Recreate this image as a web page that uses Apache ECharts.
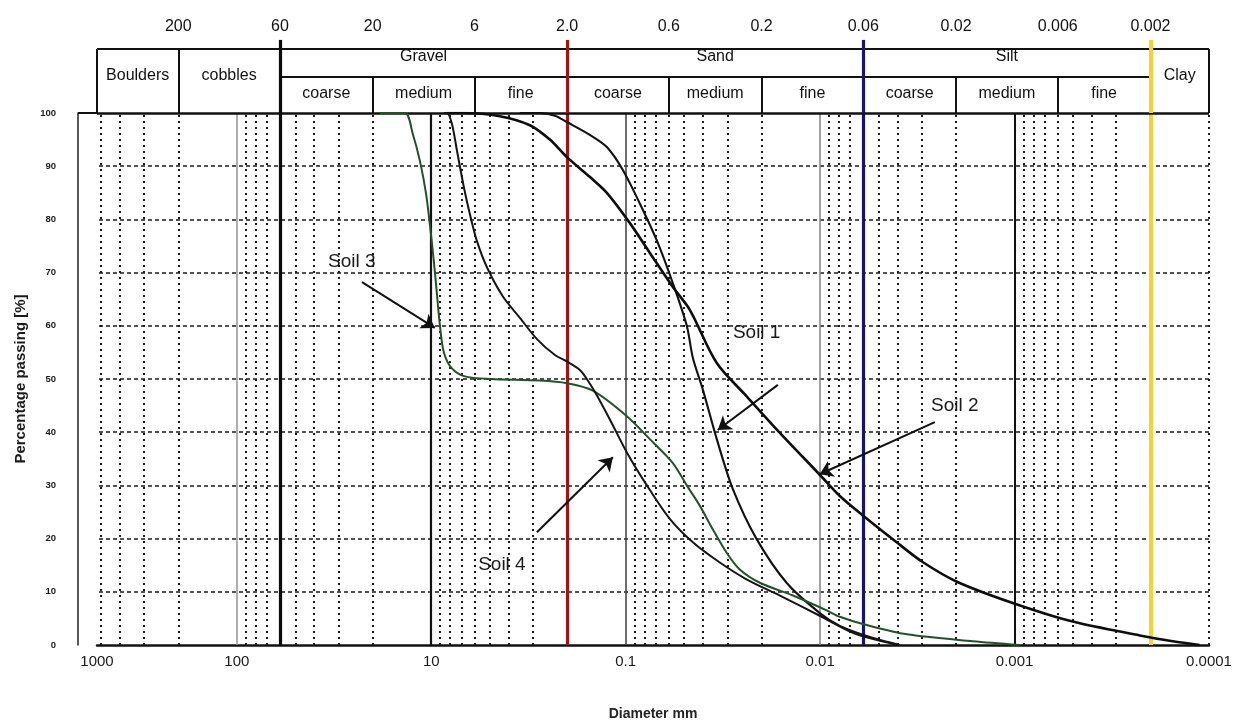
<!DOCTYPE html>
<html><head><meta charset="utf-8">
<script src="https://cdn.jsdelivr.net/npm/echarts@6/dist/echarts.min.js"></script>
<style>html,body{margin:0;padding:0;background:#fff}#c{width:1243px;height:726px}</style>
</head><body><div id="c"></div>
<script>
// ---------- axis ranges ----------
const xMin = 0.001, xMax = 523.6;            // diameter (mm), log axis, reversed
const bottomTickLabels = ['1000','100','10','0.1','0.01','0.001','0.0001'];
const yTickLabelsStep = 10;
const yGridValues = [10,20,30,40,50,60,70,80,90];

// ---------- soil gradation curves [diameter mm, % passing] ----------
const soil1 = [[3.5,100],[2.76,100],[2.31,99.5],[2.006,98.3],[1.53,95.9],[1.25,93.6],[1.034,89.3],[0.846,83],[0.691,76],[0.572,68],[0.485,60],[0.4515,54],[0.401,48],[0.340,38.7],[0.281,29.3],[0.212,19.9],[0.148,11.6],[0.1004,6],[0.0792,3.6],[0.0534,1.3],[0.039,0]];
const soil2 = [[8.3,100],[6.87,100],[4.44,99.4],[3.11,97.7],[2.455,95],[2.006,91.7],[1.53,88],[1.25,85],[0.951,79.3],[0.751,73.7],[0.572,67.3],[0.468,63],[0.340,53],[0.238,46.7],[0.167,40.5],[0.1004,32],[0.0792,28],[0.0596,24.2],[0.0404,19.3],[0.0297,15.6],[0.0198,11.9],[0.01022,7.9],[0.00502,4.4],[0.00227,1.8],[0.001536,0.7],[0.001117,0]];
const soil3 = [[18.37,100],[13.66,100],[12.43,96],[11.44,91],[10.65,85],[10.16,79],[9.69,72],[9.35,66],[9.02,60],[8.61,55],[7.83,52],[6.71,50.5],[4.99,50],[2.76,49.7],[2.006,49.2],[1.475,47.8],[0.986,43],[0.751,38.7],[0.572,34.2],[0.485,30],[0.416,26.2],[0.356,21.7],[0.302,17.3],[0.259,14.2],[0.204,11.7],[0.138,9.3],[0.0925,6.5],[0.0792,5.3],[0.0596,3.9],[0.0358,2],[0.0164,0.7],[0.00941,0]];
const soil4 = [[8.6,100],[8.30,100],[7.83,98],[7.38,93],[6.79,86],[6.33,81],[5.83,76],[5.17,71],[4.28,65.5],[3.50,61.5],[2.86,57.5],[2.31,54.5],[2.006,53.3],[1.72,51.7],[1.584,50],[1.41,47],[1.206,42.4],[0.986,36.2],[0.778,30],[0.593,23.7],[0.4515,19.3],[0.328,15.5],[0.238,12.3],[0.161,9.3],[0.1004,5.5],[0.0679,2.3],[0.0494,0.8],[0.039,0]];

// ---------- annotations: label point, arrow start, arrow tip ----------
const annotations = [
  {name:'Soil 1', text:[0.212,58.6], from:[0.165,48.9], to:[0.336,40.4]},
  {name:'Soil 2', text:[0.0203,44.9], from:[0.0257,41.9], to:[0.1005,32.1]},
  {name:'Soil 3', text:[25.6,72.0], from:[22.7,68.2], to:[9.58,59.6]},
  {name:'Soil 4', text:[4.33,15.0], from:[2.86,21.2], to:[1.164,35.3]}
];

// ---------- classification header ----------
const topTickValues = [200,60,20,6,2,0.6,0.2,0.06,0.02,0.006,0.002];
const topTickLabels = ['200','60','20','6','2.0','0.6','0.2','0.06','0.02','0.006','0.002'];
const fullClasses = [['Boulders',xMax,200],['cobbles',200,60],['Clay',0.002,xMin]];
const groupClasses = [['Gravel',60,2],['Sand',2,0.06],['Silt',0.06,0.002]];
const subClasses = [['coarse',60,20],['medium',20,6],['fine',6,2],['coarse',2,0.6],['medium',0.6,0.2],['fine',0.2,0.06],['coarse',0.06,0.02],['medium',0.02,0.006],['fine',0.006,0.002]];
const subBounds = [20,6,0.6,0.2,0.02,0.006];
const majorBounds = [60,2,0.06,0.002];
const majorColors = ['#0a0a0a','#9c1616','#15156a','#f1d338'];

// ---------- grid decades ----------
const decadeBases = [100,10,1,0.1,0.01,0.001];
const minorMultipliers = [2,3,4,5,6,7,8,9];
const decadeLines = [100,10,1,0.1,0.01];
const decadeColors = ['#9a9a9a','#111111','#4a4a4a','#8a8a8a','#111111'];
const decadeWidths = [1.6,2.2,1.6,1.6,2];

const FONT = 'Liberation Sans, Arial, sans-serif';
const gm = (a,b) => Math.sqrt(a*b);

const minorValues = [];
decadeBases.forEach(b => minorMultipliers.forEach(m => {
  const v = +(b*m).toPrecision(6);
  if (v < xMax && v > xMin && majorBounds.indexOf(v) < 0) minorValues.push(v);
}));

// header row units: lower row 0..1, upper row 1..1.78, labels above
const H_MID = 1, H_TOP = 1.78, H_LINE_TOP = 2.03, H_LABEL = 2.39;

const headerLines = [];
const hl = (x1,y1,x2,y2,color,width) => headerLines.push([
  {coord:[x1,y1], lineStyle:{color:color,width:width,type:'solid'}},{coord:[x2,y2]}]);
hl(xMax,H_TOP,xMin,H_TOP,'#111',2);
hl(60,H_MID,0.002,H_MID,'#111',2);
hl(xMax,0,xMin,0,'#111',2.5);
hl(xMax,0,xMax,H_TOP,'#111',2);
hl(xMin,0,xMin,H_TOP,'#111',2);
hl(200,0,200,H_TOP,'#111',2);
subBounds.forEach(v => hl(v,0,v,H_MID,'#111',2));
majorBounds.forEach((v,i) => hl(v,0,v,H_LINE_TOP,majorColors[i], i===3?4:3.2));

const headerTexts = [];
fullClasses.forEach(c => headerTexts.push({value:[gm(c[1],c[2]),1.05], name:c[0]}));
groupClasses.forEach(c => headerTexts.push({value:[gm(c[1],c[2]),1.56], name:c[0]}));
subClasses.forEach(c => headerTexts.push({value:[gm(c[1],c[2]),0.55], name:c[0]}));
const topTexts = topTickValues.map((v,i) => ({value:[v,H_LABEL], name:topTickLabels[i]}));

const mainLines = [];
yGridValues.forEach(v => mainLines.push({yAxis:v, lineStyle:{color:'#1a1a1a',width:1.5,type:[4,3]}}));
minorValues.forEach(v => mainLines.push({xAxis:v, lineStyle:{color:'#1a1a1a',width:2,type:[2,4]}}));
mainLines.push({xAxis:xMin, lineStyle:{color:'#1a1a1a',width:2,type:[2,4]}});
decadeLines.forEach((v,i) => mainLines.push({xAxis:v, lineStyle:{color:decadeColors[i],width:decadeWidths[i],type:'solid'}}));
const boundLines = majorBounds.map((v,i) => ({xAxis:v, lineStyle:{color:majorColors[i],width:i===3?4:3.2,type:'solid'}}));

function xLabel(v){
  if (v > 150) return bottomTickLabels[0];
  const idx = Math.round(2 - Math.log10(v)) + 1;
  return bottomTickLabels[idx] || '';
}

const chart = echarts.init(document.getElementById('c'), null, {renderer:'canvas'});
const soilStyle = (c,w) => ({type:'line', xAxisIndex:0, yAxisIndex:0, showSymbol:false, symbol:'none',
  smooth:0.3, lineStyle:{color:c,width:w}, z:5, silent:true});
const textSeries = (xi, data, size, color) => ({type:'scatter', xAxisIndex:xi, yAxisIndex:xi, symbolSize:0,
  silent:true, z:6, itemStyle:{opacity:1}, data:data,
  label:{show:true, position:'inside', formatter:'{b}', fontSize:size, color:color, opacity:1, fontFamily:FONT}});
const ML = (data, extra) => Object.assign({silent:true, symbol:'none', precision:8, label:{show:false}, animation:false, data:data}, extra||{});

chart.setOption({
  animation:false,
  backgroundColor:'#fff',
  textStyle:{fontFamily:FONT},
  grid:[
    {left:97, right:34, top:113, bottom:81},
    {left:97, right:34, top:14, height:99}
  ],
  xAxis:[
    {type:'log', logBase:10, gridIndex:0, inverse:true, min:xMin, max:xMax,
     name:'Diameter mm', nameLocation:'middle', nameGap:62,
     nameTextStyle:{fontSize:14, fontWeight:'bold', color:'#222', fontFamily:FONT},
     axisLine:{show:true, onZero:false, lineStyle:{color:'#111', width:2.5}},
     axisTick:{show:false}, splitLine:{show:false}, minorTick:{show:false},
     axisLabel:{fontSize:15, color:'#1a1a1a', margin:9, fontFamily:FONT, formatter:xLabel}},
    {type:'log', logBase:10, gridIndex:1, inverse:true, min:xMin, max:xMax, show:false}
  ],
  yAxis:[
    {type:'value', gridIndex:0, min:0, max:100, interval:yTickLabelsStep, offset:19,
     name:'Percentage passing [%]', nameLocation:'middle', nameGap:50, nameRotate:90,
     nameTextStyle:{fontSize:15, fontWeight:'bold', color:'#1a1a1a', fontFamily:FONT},
     axisLine:{show:true, lineStyle:{color:'#222', width:1.5}},
     axisTick:{show:true, inside:true, length:19, customValues:[100], lineStyle:{color:'#111', width:2}},
     axisLabel:{fontSize:9.5, fontWeight:'bold', color:'#1a1a1a', margin:22, fontFamily:FONT},
     splitLine:{show:false}},
    {type:'value', gridIndex:1, min:0, max:2.75, show:false}
  ],
  series:[
    {type:'line', xAxisIndex:0, yAxisIndex:0, data:[[xMax,0]], symbol:'none', lineStyle:{opacity:0}, silent:true, z:1,
     markLine:ML(mainLines, {z:1})},
    {type:'line', xAxisIndex:0, yAxisIndex:0, data:[[xMax,0]], symbol:'none', lineStyle:{opacity:0}, silent:true, z:3,
     markLine:ML(boundLines, {z:3})},
    Object.assign(soilStyle('#111',2.1), {name:'Soil 1', data:soil1}),
    Object.assign(soilStyle('#0d0d0d',2.6), {name:'Soil 2', data:soil2}),
    Object.assign(soilStyle('#24512a',2), {name:'Soil 3', data:soil3}),
    Object.assign(soilStyle('#151515',2), {name:'Soil 4', data:soil4}),
    Object.assign(textSeries(0, annotations.map(a => ({value:a.text, name:a.name})), 19, '#1a1a1a'), {
     markLine:ML(annotations.map(a => [{coord:a.from},{coord:a.to}]),
       {symbol:['none','arrow'], symbolSize:13, lineStyle:{color:'#111', width:2, type:'solid'}})}),
    Object.assign(textSeries(1, headerTexts, 16, '#111'), {markLine:ML(headerLines)}),
    textSeries(1, topTexts, 16, '#111')
  ]
});
</script>
</body></html>
